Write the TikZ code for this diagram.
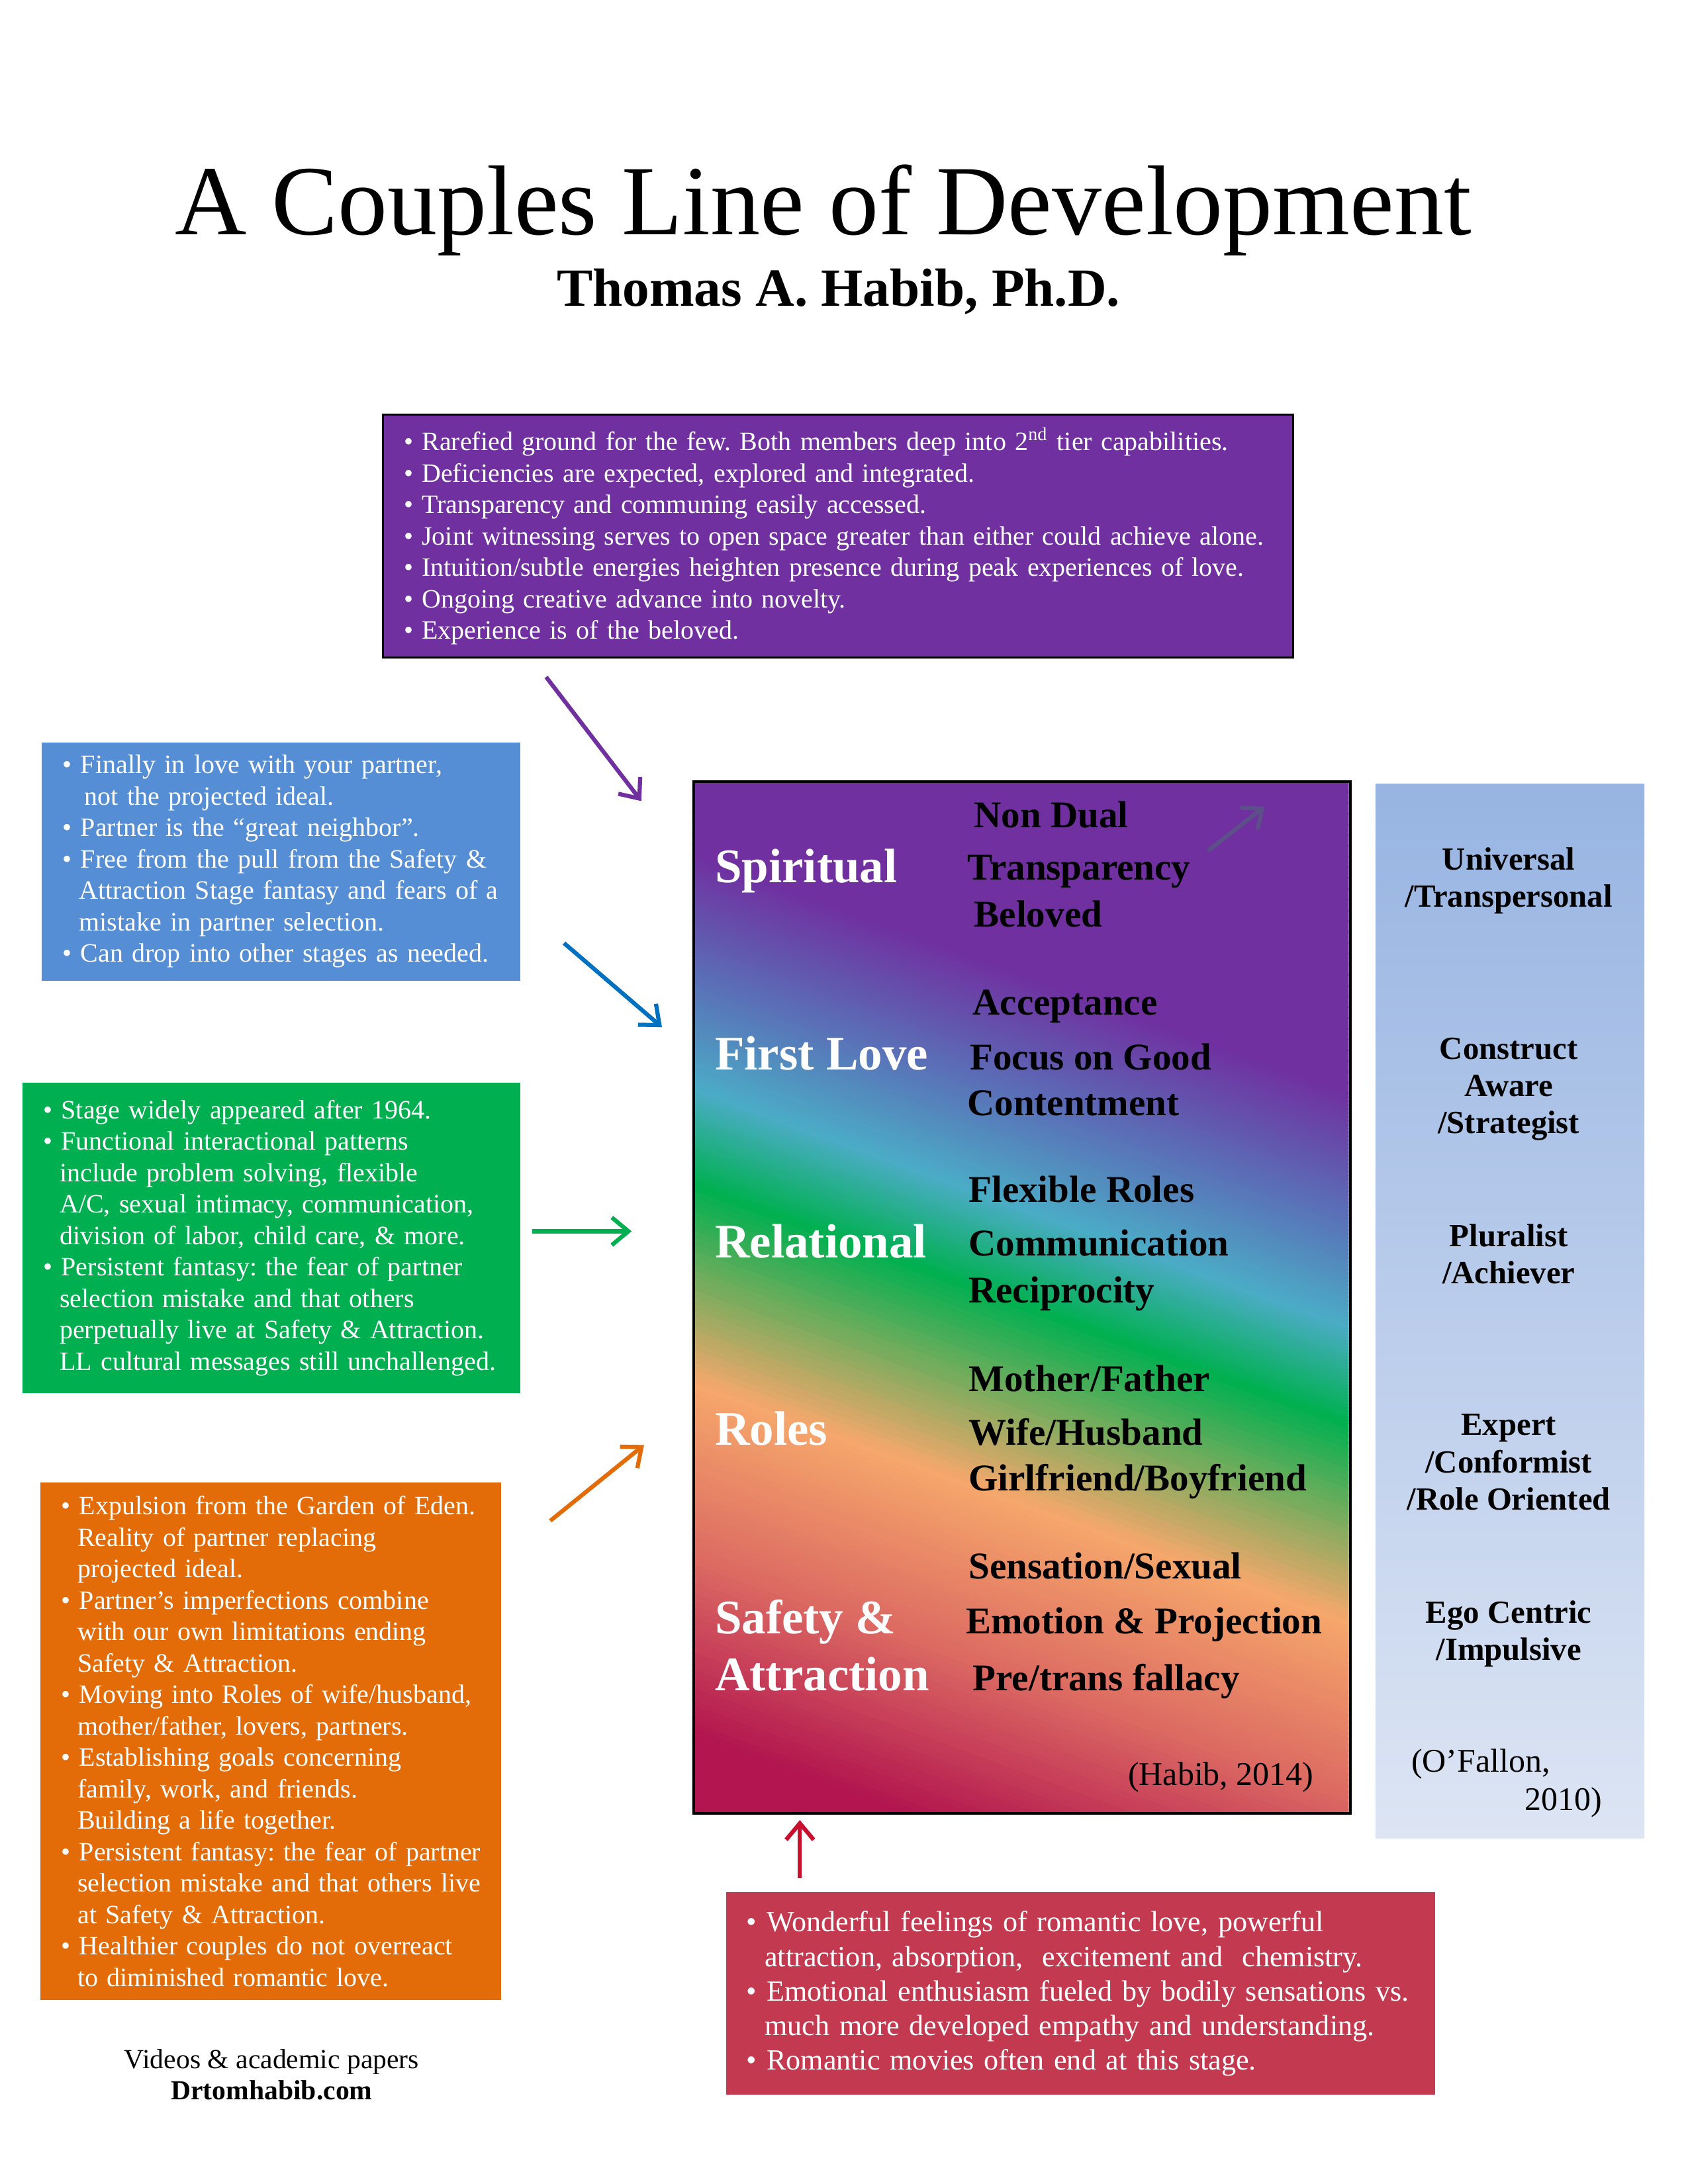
\documentclass[tikz,border=0pt]{standalone}
\usepackage{fontspec}
\setmainfont{Liberation Serif}
\usetikzlibrary{positioning,calc,arrows.meta}

\definecolor{tierpurple}{HTML}{7030A0}
\definecolor{tierblue}{HTML}{558ED5}
\definecolor{tiergreen}{HTML}{00B050}
\definecolor{tierorange}{HTML}{E36C09}
\definecolor{tierred}{HTML}{C3394F}
\definecolor{arrowblue}{HTML}{0070C0}
\definecolor{arrowred}{HTML}{C8102E}
\definecolor{arrowgrey}{HTML}{5C4F8A}
\definecolor{levtop}{HTML}{97B4E2}
\definecolor{levbot}{HTML}{DDE5F4}
\definecolor{bandviolet}{HTML}{5B6CB6}
\definecolor{bandcyan}{HTML}{4BACC6}
\definecolor{bandpeach}{HTML}{F6A76B}
\definecolor{bandsalmon}{HTML}{DC6A62}
\definecolor{bandcrimson}{HTML}{B2154F}

\newcommand{\itm}{\hspace*{7.5pt}\textbullet\ }
\newcommand{\cnt}{\hspace*{7.5pt}\hspace*{0.62em}}
\frenchspacing

\begin{document}
\begin{tikzpicture}
	[x=0.5pt,y=-0.5pt,
	every node/.style={inner sep=0pt},
	notebox/.style={anchor=north west,align=left,text=white,font=\fontsize{9.6}{11.4}\selectfont,execute at begin node={\hyphenpenalty=10000}},
	stagename/.style={anchor=base west,text=white,font=\fontsize{17.5}{20}\selectfont\bfseries},
	stageitem/.style={anchor=base west,font=\fontsize{13.7}{16}\selectfont\bfseries},
	levelname/.style={anchor=base,align=center,font=\fontsize{11.7}{13.5}\selectfont\bfseries},
	citation/.style={font=\fontsize{12}{14}\selectfont},
	devarrow/.style={line width=1.5pt,-{Straight Barb[length=6pt,width=10pt]}}]
	\path[use as bounding box,fill=white] (0,0) rectangle (1224,1584);

	\node[anchor=base,font=\fontsize{36}{40}\selectfont] (title) at (597,170) {A Couples Line of Development};
	\node[anchor=base,font=\fontsize{19.5}{22}\selectfont\bfseries] (author) at (608,222) {Thomas A. Habib, Ph.D.};

	\begin{scope}
		\clip (502,566) rectangle (978,1314);
		\begin{scope}[shift={(740,940)},rotate=-20]
			\foreach \bandStart/\bandEnd/\fromColor/\toColor in {-440/-220/tierpurple/tierpurple,-220/-140/tierpurple/bandviolet,-140/-60/bandviolet/bandcyan,-60/5/bandcyan/tiergreen,5/140/tiergreen/bandpeach,140/260/bandpeach/bandsalmon,260/380/bandsalmon/bandcrimson,380/440/bandcrimson/bandcrimson}
			{
				\foreach \k in {0,...,29}
				{
					\pgfmathsetmacro\tlo{\bandStart+(\bandEnd-\bandStart)*\k/30}
					\pgfmathsetmacro\thi{\bandStart+(\bandEnd-\bandStart)*(\k+1)/30+1}
					\pgfmathtruncatemacro\mixp{100*(\k+0.5)/30}
					\colorlet{bandfill}{\toColor!\mixp!\fromColor}
					\fill[bandfill] (-420,\tlo) rectangle (420,\thi);
				}
			}
		\end{scope}
	\end{scope}
	\node[anchor=north west,draw=black,line width=1pt,minimum width=238pt,minimum height=374pt] (stages) at (502,566) {};
	\node[anchor=north west,top color=levtop,bottom color=levbot,minimum width=97.5pt,minimum height=382.5pt] (levels) at (997,568) {};

	\node[notebox,fill=tierpurple,draw=black,line width=0.8pt,text width=330pt,minimum height=88pt] (spiritbox) at (277,300)
	{\itm Rarefied ground for the few. Both members deep into 2\textsuperscript{nd} tier capabilities.\\
	\itm Deficiencies are expected, explored and integrated.\\
	\itm Transparency and communing easily accessed.\\
	\itm Joint witnessing serves to open space greater than either could achieve alone.\\
	\itm Intuition/subtle energies heighten presence during peak experiences of love.\\
	\itm Ongoing creative advance into novelty.\\
	\itm Experience is of the beloved.};

	\node[notebox,fill=tierblue,text width=173.5pt,minimum height=86.5pt] (lovebox) at (30,538)
	{\itm Finally in love with your partner,\\
	\cnt\hspace*{2pt}not the projected ideal.\\
	\itm Partner is the “great neighbor”.\\
	\itm Free from the pull from the Safety \&\\
	\cnt Attraction Stage fantasy and fears of a\\
	\cnt mistake in partner selection.\\
	\itm Can drop into other stages as needed.};

	\node[notebox,fill=tiergreen,text width=180.5pt,minimum height=112.5pt] (relbox) at (16,785)
	{\itm Stage widely appeared after 1964.\\
	\itm Functional interactional patterns\\
	\cnt include problem solving, flexible\\
	\cnt A/C, sexual intimacy, communication,\\
	\cnt division of labor, child care, \& more.\\
	\itm Persistent fantasy: the fear of partner\\
	\cnt selection mistake and that others\\
	\cnt perpetually live at Safety \& Attraction.\\
	\cnt LL cultural messages still unchallenged.};

	\node[notebox,fill=tierorange,text width=167pt,minimum height=187.5pt] (rolesbox) at (29,1075)
	{\itm Expulsion from the Garden of Eden.\\
	\cnt Reality of partner replacing\\
	\cnt projected ideal.\\
	\itm Partner’s imperfections combine\\
	\cnt with our own limitations ending\\
	\cnt Safety \& Attraction.\\
	\itm Moving into Roles of wife/husband,\\
	\cnt mother/father, lovers, partners.\\
	\itm Establishing goals concerning\\
	\cnt family, work, and friends.\\
	\cnt Building a life together.\\
	\itm Persistent fantasy: the fear of partner\\
	\cnt selection mistake and that others live\\
	\cnt at Safety \& Attraction.\\
	\itm Healthier couples do not overreact\\
	\cnt to diminished romantic love.};

	\node[notebox,fill=tierred,text width=257pt,minimum height=73.5pt,font=\fontsize{10.6}{12.5}\selectfont] (safetybox) at (526,1372)
	{\itm Wonderful feelings of romantic love, powerful\\
	\cnt attraction, absorption,\ \ excitement and\ \ chemistry.\\
	\itm Emotional enthusiasm fueled by bodily sensations vs.\\
	\cnt much more developed empathy and understanding.\\
	\itm Romantic movies often end at this stage.};

	\node[stagename] (spiritual) at (518,640) {Spiritual};
	\node[stagename] (firstlove) at (518,776) {First Love};
	\node[stagename] (relational) at (518,912) {Relational};
	\node[stagename] (roles) at (518,1048) {Roles};
	\node[stagename] (safety) at (518,1185) {Safety \&};
	\node[stagename] (attraction) at (518,1226) {Attraction};

	\foreach \itemText/\px/\py in {{Non Dual}/706/600,{Transparency}/701/638,{Beloved}/706/672,{Acceptance}/705/736,{Focus on Good}/703/776,{Contentment}/701/809,{Flexible Roles}/702/872,{Communication}/702/911,{Reciprocity}/702/945,{Mother/Father}/702/1009,{Wife/Husband}/702/1048,{Girlfriend/Boyfriend}/702/1081,{Sensation/Sexual}/702/1145,{Emotion \& Projection}/700/1185,{Pre/trans fallacy}/705/1226}
	{
		\node[stageitem] (item\py) at (\px,\py) {\itemText};
	}

	\node[levelname] (universal) at (1094,658) {Universal\\/Transpersonal};
	\node[levelname] (construct) at (1094,822) {Construct\\Aware\\/Strategist};
	\node[levelname] (pluralist) at (1094,931) {Pluralist\\/Achiever};
	\node[levelname] (expert) at (1094,1095) {Expert\\/Conformist\\/Role Oriented};
	\node[levelname] (egocentric) at (1094,1204) {Ego Centric\\/Impulsive};

	\node[citation,anchor=base east] (habib) at (953,1295) {(Habib, 2014)};
	\node[citation,anchor=base west] (ofallon) at (1023,1285) {(O’Fallon,};
	\node[citation,anchor=base east] (ofallonyear) at (1162,1313) {2010)};

	\node[anchor=base,font=\fontsize{10}{12}\selectfont] (videos) at (197,1500) {Videos \& academic papers};
	\node[anchor=base,font=\fontsize{10}{12}\selectfont\bfseries] (site) at (197,1523) {Drtomhabib.com};

	\coordinate (spiritTail) at (396,491);
	\coordinate (spiritHead) at (465,581);
	\coordinate (loveTail) at (409,684);
	\coordinate (loveHead) at (480,745);
	\coordinate (relTail) at (386,893);
	\coordinate (relHead) at (458,893);
	\coordinate (rolesTail) at (399,1103);
	\coordinate (rolesHead) at (467,1048);
	\coordinate (safetyTail) at (580,1362);
	\coordinate (safetyHead) at (580,1320);
	\coordinate (dualTail) at (876,617);
	\coordinate (dualHead) at (917,585);
	\path
	\foreach \startNode/\endNode/\tint in {spiritTail/spiritHead/tierpurple,loveTail/loveHead/arrowblue,relTail/relHead/tiergreen,rolesTail/rolesHead/tierorange,safetyTail/safetyHead/arrowred,dualTail/dualHead/arrowgrey}
	{
		(\startNode) edge[devarrow,draw=\tint] (\endNode)
	};
\end{tikzpicture}
\end{document}
